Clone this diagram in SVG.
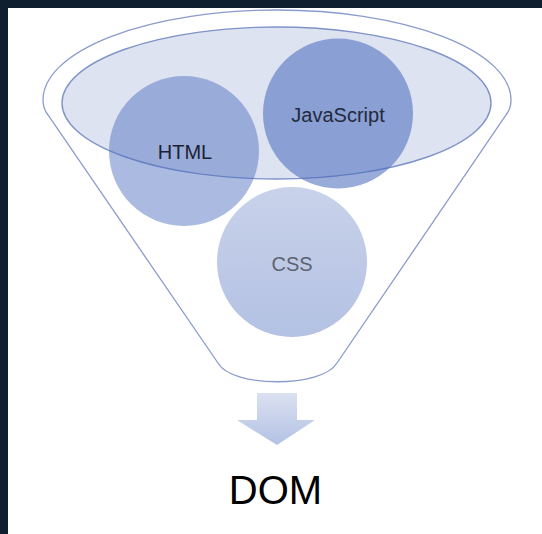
<svg xmlns="http://www.w3.org/2000/svg" width="542" height="534" viewBox="0 0 542 534">
  <style>
    .outline { fill: none; stroke: #8a9ccc; stroke-width: 1.3; }
    .lbl { font-family: "Liberation Sans", Arial, sans-serif; font-size: 20px; text-anchor: middle; }
  </style>
  <defs>
    <linearGradient id="gArrow" x1="0" y1="0" x2="0" y2="1">
      <stop offset="0" stop-color="#dbe1f0"/>
      <stop offset="1" stop-color="#b3c1e5"/>
    </linearGradient>
    <linearGradient id="gCss" x1="0" y1="0" x2="0" y2="1">
      <stop offset="0" stop-color="#c9d2ea"/>
      <stop offset="1" stop-color="#b3c1e3"/>
    </linearGradient>
  </defs>
  <rect x="0" y="0" width="542" height="534" fill="#0f1f30"/>
  <rect x="8" y="8" width="534" height="526" fill="#ffffff"/>

  <g id="funnel">
    <path class="outline" d="M 48,115 C 44,110 43,104 43,100 A 234 90 0 0 1 511,100 C 511,104 510,110 506,115 L 337,363 C 322,388 232,388 218,363 Z" fill="#ffffff"/>
    <ellipse cx="276.5" cy="103" rx="214.5" ry="76" fill="#dde3f1" stroke="#7f93c8" stroke-width="1.4"/>
  </g>

  <g id="html">
    <circle cx="184" cy="151" r="75" fill="#4f6fbf" fill-opacity="0.48"/>
    <text class="lbl" x="185" y="159" fill="#1c2233">HTML</text>
  </g>
  <g id="javascript">
    <circle cx="338" cy="113.5" r="75" fill="#4a69bb" fill-opacity="0.56"/>
    <text class="lbl" x="338" y="122" fill="#232a3c">JavaScript</text>
  </g>
  <g id="css">
    <circle cx="292" cy="262" r="75" fill="url(#gCss)"/>
    <text class="lbl" x="292" y="271" fill="#5d6270">CSS</text>
  </g>

  <g id="connectors">
    <path d="M 257,393 L 297,393 L 297,420 L 315,420 L 277,445 L 237,420 L 257,420 Z" fill="url(#gArrow)"/>
  </g>

  <g id="dom">
    <text x="275.5" y="504" font-family="Liberation Sans, Arial, sans-serif" font-size="40" text-anchor="middle" fill="#000000">DOM</text>
  </g>
</svg>
